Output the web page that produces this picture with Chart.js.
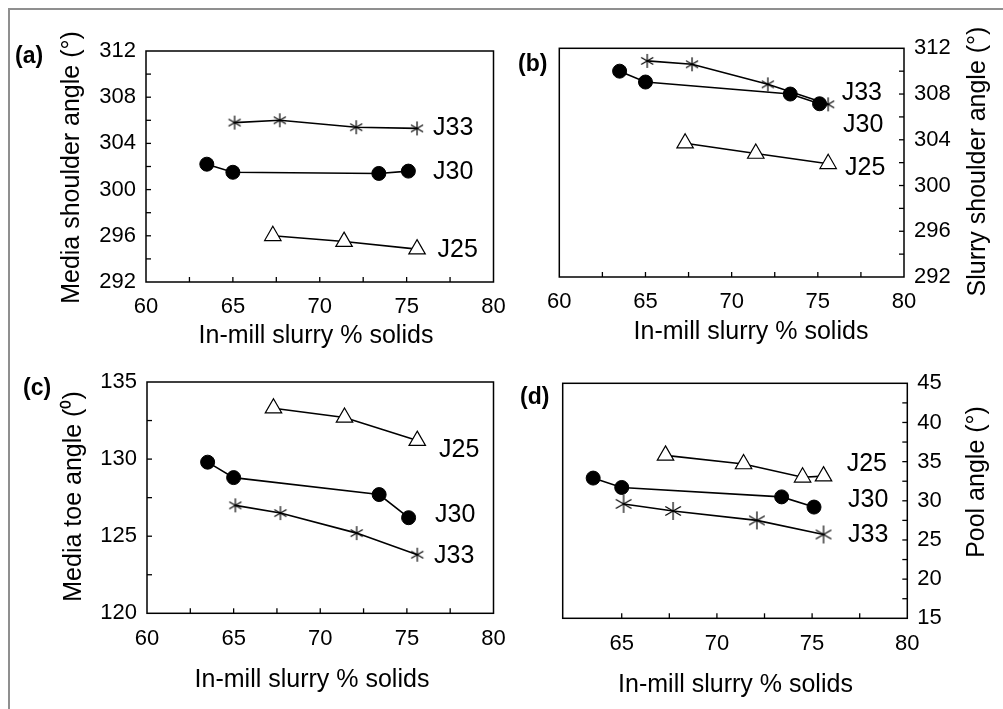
<!DOCTYPE html>
<html>
<head>
<meta charset="utf-8">
<script src="https://cdn.jsdelivr.net/npm/chart.js@4.4.1/dist/chart.umd.min.js"></script>
<style>
  html, body { margin: 0; padding: 0; background: #fff; }
  #figure { position: relative; width: 1003px; height: 709px; overflow: hidden; background: #fff; }
  #frame { position: absolute; left: 8px; top: 8px; width: 1100px; height: 800px;
           border-left: 2px solid #8f8f8f; border-top: 2px solid #8f8f8f; }
  canvas { position: absolute; left: 0; top: 0; }
</style>
</head>
<body>
<div id="figure">
  <div id="frame"></div>
  <canvas id="panelA" width="1003" height="709"></canvas>
  <canvas id="panelB" width="1003" height="709"></canvas>
  <canvas id="panelC" width="1003" height="709"></canvas>
  <canvas id="panelD" width="1003" height="709"></canvas>
</div>
<script>
// =========================
// DATA
// =========================

// in-mill slurry % solids, per mill filling
const solidsJ33 = [65.1, 67.7, 72.1, 75.6];
const solidsJ30 = [63.5, 65.0, 73.4, 75.1];
const solidsJ25 = [67.3, 71.4, 75.6];
const solidsJ25Pool = [67.3, 71.4, 74.5, 75.6];

// (a) media shoulder angle
const mediaShoulderJ33 = [305.8, 306.0, 305.4, 305.3];
const mediaShoulderJ30 = [302.2, 301.5, 301.4, 301.6];
const mediaShoulderJ25 = [296.0, 295.5, 294.85];

// (b) slurry shoulder angle
const slurryShoulderJ33 = [310.9, 310.6, 308.85, 307.1];
const slurryShoulderJ30 = [310.0, 309.05, 308.0, 307.15];
const slurryShoulderJ25 = [303.7, 302.8, 301.9];

// (c) media toe angle
const mediaToeJ33 = [127.0, 126.5, 125.2, 123.8];
const mediaToeJ30 = [129.8, 128.8, 127.7, 126.2];
const mediaToeJ25 = [133.3, 132.7, 131.2];

// (d) pool angle
const poolJ33 = [29.6, 28.7, 27.5, 25.7];
const poolJ30 = [32.9, 31.7, 30.5, 29.2];
const poolJ25 = [35.8, 34.7, 33.0, 33.15];

const panelLetters = ["(a)", "(b)", "(c)", "(d)"];
const yTitles = [
    "Media shoulder angle (\u00B0)",
    "Slurry shoulder angle (\u00B0)",
    "Media toe angle (\u2070)",
    "Pool angle (\u00B0)"
];
const xTitle = "In-mill slurry % solids";

// =========================
// STYLE HELPERS
// =========================

const FAMILY = "'Liberation Sans', Arial, sans-serif";
Chart.defaults.font.family = FAMILY;
Chart.defaults.color = "#000";

// six-armed asterisk marker
function asterisk(r) {
    const c = document.createElement("canvas");
    const s = Math.ceil(2 * r + 4);
    c.width = s;
    c.height = s;
    const g = c.getContext("2d");
    g.strokeStyle = "#000";
    g.lineWidth = 1.2;
    g.translate(s / 2, s / 2);
    [90, 30, 150].forEach(a => {
        const t = a * Math.PI / 180;
        g.beginPath();
        g.moveTo(-Math.cos(t) * r, -Math.sin(t) * r);
        g.lineTo(Math.cos(t) * r, Math.sin(t) * r);
        g.stroke();
    });
    return c;
}

const lineStyle = {
    showLine: true,
    fill: false,
    tension: 0,
    borderColor: "#000",
    borderWidth: 1.6
};

function j30(xs, ys) {
    return { ...lineStyle, label: "J30", data: xs.map((x, i) => ({ x, y: ys[i] })),
        pointStyle: "circle", pointRadius: 7, pointBackgroundColor: "#000",
        pointBorderColor: "#000", pointBorderWidth: 1 };
}

function j33(xs, ys, r) {
    return { ...lineStyle, label: "J33", data: xs.map((x, i) => ({ x, y: ys[i] })),
        pointStyle: asterisk(r), pointRadius: r };
}

function j25(xs, ys) {
    return { ...lineStyle, label: "J25", data: xs.map((x, i) => ({ x, y: ys[i] })),
        pointStyle: "triangle", pointRadius: 9.5, pointBackgroundColor: "#fff",
        pointBorderColor: "#000", pointBorderWidth: 1.2 };
}

function xScale(min) {
    return {
        type: "linear", min: min, max: 80,
        grid: { display: false, drawTicks: false },
        border: { display: false },
        ticks: {
            stepSize: 2.5, autoSkip: false, includeBounds: false, maxRotation: 0,
            padding: 12, font: { size: 22 }, color: "#000",
            callback: v => (v % 5 === 0 ? v : "")
        },
        // no tick squeezed against a cut-off axis start
        afterBuildTicks: s => { s.ticks = s.ticks.filter(t => t.value === s.min || t.value - s.min >= 1); },
        afterFit: s => { s.height = 40; }
    };
}

function yScale(min, max, step, major, side) {
    return {
        type: "linear", position: side, min: min, max: max,
        grid: { display: false, drawTicks: false },
        border: { display: false },
        ticks: {
            stepSize: step, autoSkip: false, padding: 10,
            font: { size: 22 }, color: "#000",
            callback: v => (v % major === 0 ? v : "")
        },
        afterFit: s => { s.width = 60; }
    };
}

// plot frame plus inward tick marks
const frameTicks = {
    id: "frameTicks",
    beforeDatasetsDraw(chart) {
        const { ctx, chartArea: a } = chart;
        ctx.save();
        ctx.strokeStyle = "#000";
        ctx.lineWidth = 1.5;
        ctx.strokeRect(a.left, a.top, a.right - a.left, a.bottom - a.top);
        ctx.lineWidth = 1.3;
        const xs = chart.scales.x;
        xs.ticks.forEach(t => {
            const px = xs.getPixelForValue(t.value);
            if (px <= a.left + 1 || px >= a.right - 1) return;
            ctx.beginPath();
            ctx.moveTo(px, a.bottom);
            ctx.lineTo(px, a.bottom - 5);
            ctx.stroke();
        });
        const ys = chart.scales.y;
        const x0 = ys.position === "left" ? a.left : a.right;
        const dir = ys.position === "left" ? 1 : -1;
        ys.ticks.forEach(t => {
            const py = ys.getPixelForValue(t.value);
            if (py <= a.top + 1 || py >= a.bottom - 1) return;
            ctx.beginPath();
            ctx.moveTo(x0, py);
            ctx.lineTo(x0 + dir * 5, py);
            ctx.stroke();
        });
        ctx.restore();
    }
};

// panel letter, axis titles and series names
const panelText = {
    id: "panelText",
    afterDraw(chart, args, o) {
        const ctx = chart.ctx;
        ctx.save();
        ctx.fillStyle = "#000";
        ctx.textBaseline = "middle";
        ctx.textAlign = "left";
        ctx.font = "bold 23px " + FAMILY;
        ctx.fillText(o.letter, o.letterAt[0], o.letterAt[1]);
        ctx.font = "25px " + FAMILY;
        o.labels.forEach(l => ctx.fillText(l[0], l[1], l[2]));
        ctx.textAlign = "center";
        ctx.fillText(xTitle, o.xTitleAt[0], o.xTitleAt[1]);
        ctx.translate(o.yTitleAt[0], o.yTitleAt[1]);
        ctx.rotate(-Math.PI / 2);
        ctx.fillText(o.yTitle, 0, 0);
        ctx.restore();
    }
};

function makePanel(id, datasets, x, y, padding, text) {
    new Chart(document.getElementById(id), {
        type: "scatter",
        data: { datasets: datasets },
        options: {
            responsive: false,
            animation: false,
            events: [],
            layout: { padding: padding },
            scales: { x: x, y: y },
            plugins: {
                legend: { display: false },
                tooltip: { enabled: false },
                panelText: text
            }
        },
        plugins: [frameTicks, panelText]
    });
}

// =========================
// PANELS
// =========================

makePanel("panelA",
    [j30(solidsJ30, mediaShoulderJ30), j33(solidsJ33, mediaShoulderJ33, 7), j25(solidsJ25, mediaShoulderJ25)],
    xScale(60), yScale(292, 312, 2, 4, "left"),
    { left: 86, right: 509.5, top: 51, bottom: 387 },
    { letter: panelLetters[0], letterAt: [15, 57], yTitle: yTitles[0], yTitleAt: [72.5, 167.5],
      xTitleAt: [316, 336.5],
      labels: [["J33", 433, 128], ["J30", 433, 172.5], ["J25", 437.5, 250]] });

makePanel("panelB",
    [j30(solidsJ30, slurryShoulderJ30), j33(solidsJ33, slurryShoulderJ33, 7), j25(solidsJ25, slurryShoulderJ25)],
    xScale(60), yScale(292, 312, 2, 4, "right"),
    { left: 559.3, right: 39, top: 48.3, bottom: 392 },
    { letter: panelLetters[1], letterAt: [518, 65], yTitle: yTitles[1], yTitleAt: [978.3, 161.5],
      xTitleAt: [751, 332],
      labels: [["J33", 841.7, 93.5], ["J30", 843, 125], ["J25", 845, 168.5]] });

makePanel("panelC",
    [j30(solidsJ30, mediaToeJ30), j33(solidsJ33, mediaToeJ33, 7), j25(solidsJ25, mediaToeJ25)],
    xScale(60), yScale(120, 135, 2.5, 5, "left"),
    { left: 87, right: 509.5, top: 382, bottom: 55.7 },
    { letter: panelLetters[2], letterAt: [23, 389], yTitle: yTitles[2], yTitleAt: [74.2, 496.5],
      xTitleAt: [312, 680],
      labels: [["J25", 439, 450], ["J30", 435, 515.5], ["J33", 434, 556.5]] });

makePanel("panelD",
    [j30(solidsJ30, poolJ30), j33(solidsJ33, poolJ33, 9), j25(solidsJ25Pool, poolJ25)],
    xScale(61.9), yScale(15, 45, 2.5, 5, "right"),
    { left: 562.7, right: 35.7, top: 383.3, bottom: 50.7 },
    { letter: panelLetters[3], letterAt: [520, 398], yTitle: yTitles[3], yTitleAt: [976.7, 482],
      xTitleAt: [735.5, 685],
      labels: [["J25", 846.7, 464.5], ["J30", 848, 500], ["J33", 848, 535.5]] });
</script>
</body>
</html>
